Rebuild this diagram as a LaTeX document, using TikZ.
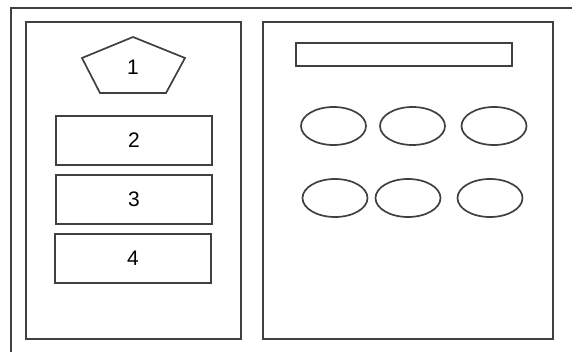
\documentclass[tikz,border=0pt]{standalone}
\usepackage{fontspec}
\setmainfont{Liberation Sans}
\usetikzlibrary{shapes.geometric}
\definecolor{ln}{gray}{0.25}
\begin{document}
\begin{tikzpicture}[x=1pt,y=-1pt,
  panel/.style={draw=ln,line width=1.8pt},
  numfont/.style={font=\fontsize{21}{23}\selectfont},
  numbox/.style={draw=ln,line width=1.7pt,minimum width=156pt,minimum height=49pt,inner sep=0pt,numfont},
  oval/.style={draw=ln,line width=1.7pt,ellipse,minimum width=65pt,minimum height=38pt,inner sep=0pt}]
\fill[white] (0,0) rectangle (572,352);
\useasboundingbox (0,0) rectangle (572,352);
% outer frame (cropped on right and bottom)
\draw[panel] (11,352) -- (11,8) -- (572,8);
% panels
\draw[panel] (26,22) rectangle (241,339);
\draw[panel] (263,22) rectangle (553,339);
% pentagon
\coordinate (p1) at (133,37);
\coordinate (p2) at (185,58);
\coordinate (p3) at (166,93);
\coordinate (p4) at (100,93);
\coordinate (p5) at (82,58);
\draw[draw=ln,line width=1.7pt,line join=miter] (p1) -- (p2) -- (p3) -- (p4) -- (p5) -- cycle;
\node[numfont,inner sep=0pt] (n1) at (133,67.5) {1};
% boxes
\node[numbox] (n2) at (134,140.5) {2};
\node[numbox] (n3) at (134,199.5) {3};
\node[numbox] (n4) at (133,258.5) {4};
% top bar
\node[draw=ln,line width=1.8pt,minimum width=216pt,minimum height=23pt,inner sep=0pt] (bar) at (404,54.5) {};
% ovals
\node[oval] (o1) at (333.5,126) {};
\node[oval] (o2) at (412.5,126) {};
\node[oval] (o3) at (494,126) {};
\node[oval] (o4) at (335,198) {};
\node[oval] (o5) at (408,198) {};
\node[oval] (o6) at (490,198) {};
\end{tikzpicture}
\end{document}
